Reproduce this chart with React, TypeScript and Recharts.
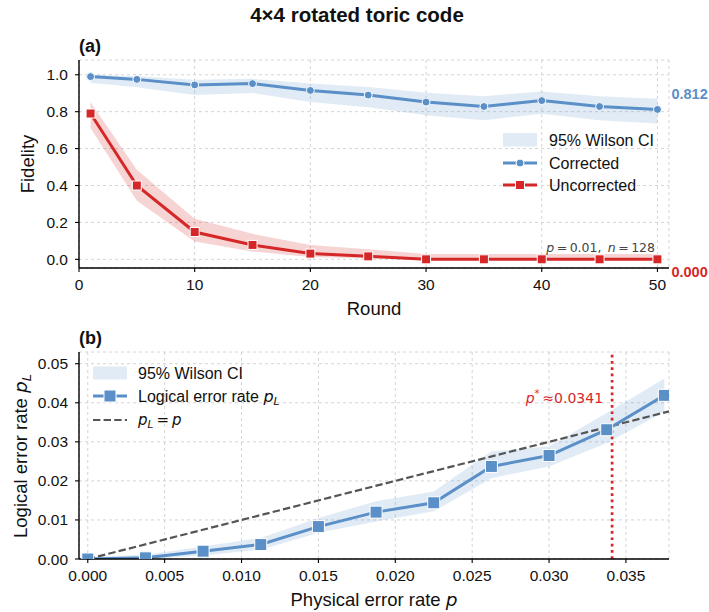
import React from 'react'
import {
  ComposedChart, Line, Area, XAxis, YAxis, CartesianGrid, ReferenceLine, ReferenceDot,
} from 'recharts'

const BLUE = '#5a8fc8'
const RED = '#d62728'
const GRAY = '#555555'
const FONT = '"Liberation Sans", Arial, sans-serif'
const MATH = '"DejaVu Sans", sans-serif'

// panel (a): fidelity vs round, n = 128 shots
const rounds = [1, 5, 10, 15, 20, 25, 30, 35, 40, 45, 50]
const corrected = [0.99, 0.975, 0.945, 0.952, 0.915, 0.89, 0.852, 0.828, 0.86, 0.828, 0.812]
const correctedLo = [0.957, 0.933, 0.891, 0.901, 0.853, 0.824, 0.78, 0.753, 0.789, 0.753, 0.736]
const correctedHi = [0.999, 0.992, 0.973, 0.978, 0.952, 0.934, 0.903, 0.884, 0.909, 0.884, 0.87]
const uncorrected = [0.79, 0.4, 0.148, 0.078, 0.031, 0.016, 0, 0, 0, 0, 0]
const uncorrectedLo = [0.711, 0.317, 0.097, 0.043, 0.012, 0.004, 0, 0, 0, 0, 0]
const uncorrectedHi = [0.851, 0.485, 0.22, 0.138, 0.078, 0.055, 0.029, 0.029, 0.029, 0.029, 0.029]
const roundTicks = [0, 10, 20, 30, 40, 50]
const fidelityTicks = [0, 0.2, 0.4, 0.6, 0.8, 1.0]

// panel (b): logical vs physical error rate
const physP = [0, 0.00375, 0.0075, 0.01125, 0.015, 0.01875, 0.0225, 0.02625, 0.03, 0.03375, 0.0375]
const logicalP = [0, 0.0003, 0.002, 0.0037, 0.0083, 0.012, 0.0144, 0.0237, 0.0265, 0.0331, 0.0419]
const logicalLo = [0, 0, 0.0009, 0.0024, 0.0067, 0.0096, 0.0122, 0.0207, 0.0237, 0.0297, 0.0377]
const logicalHi = [0.0005, 0.0011, 0.0032, 0.0054, 0.0105, 0.0148, 0.0173, 0.0276, 0.0288, 0.0374, 0.0462]
const physTicks = [0, 0.005, 0.01, 0.015, 0.02, 0.025, 0.03, 0.035]
const logicalTicks = [0, 0.01, 0.02, 0.03, 0.04, 0.05]
const threshold = 0.0341
const xMaxB = 0.0378

const dataA = rounds.map((r, i) => ({
  round: r,
  corr: corrected[i],
  corrBand: [correctedLo[i], correctedHi[i]],
  unc: uncorrected[i],
  uncBand: [uncorrectedLo[i], uncorrectedHi[i]],
}))

const dataB = physP.map((p, i) => ({
  p,
  pl: logicalP[i],
  band: [logicalLo[i], logicalHi[i]],
}))

const tickStyle = { fill: '#111', fontSize: 15.5, fontFamily: FONT }
const axisLine = { stroke: '#000', strokeWidth: 1.4 }
const tickLine = { stroke: '#000', strokeWidth: 1.1 }

const squareDot = (size: number, color: string) => (props: any) => {
  const { cx, cy, index } = props
  if (cx == null || cy == null) return <g key={`e-${index}`} />
  return (
    <rect key={`sq-${index}`} x={cx - size / 2} y={cy - size / 2} width={size} height={size}
      fill={color} stroke="#fff" strokeWidth={1} />
  )
}

const vb = (props: any) => props.viewBox || props

export default function App() {
  return (
    <div style={{ position: 'absolute', left: 0, top: 0, width: 709, height: 612, background: '#fff' }}>
      <div style={{ position: 'absolute', left: 0, top: 0 }}>
        <ComposedChart width={709} height={320} data={dataA}
          margin={{ top: 60, right: 40, bottom: 0, left: 0 }}>
          <CartesianGrid stroke="#d4d4d4" strokeDasharray="3 3" />
          <XAxis type="number" dataKey="round" domain={[0, 51]} ticks={roundTicks} height={52}
            allowDataOverflow tick={tickStyle} axisLine={axisLine} tickLine={tickLine}
            tickSize={4} tickMargin={7} />
          <YAxis type="number" domain={[-0.047, 1.08]} ticks={fidelityTicks} width={79}
            allowDataOverflow tick={tickStyle} axisLine={axisLine} tickLine={tickLine}
            tickSize={4} tickMargin={7} tickFormatter={(v: number) => v.toFixed(1)} />
          <Area type="linear" dataKey="corrBand" stroke="none" fill={BLUE} fillOpacity={0.18}
            isAnimationActive={false} activeDot={false} />
          <Area type="linear" dataKey="uncBand" stroke="none" fill={RED} fillOpacity={0.2}
            isAnimationActive={false} activeDot={false} />
          <Line type="linear" dataKey="corr" stroke={BLUE} strokeWidth={3}
            dot={{ r: 4, fill: BLUE, stroke: '#fff', strokeWidth: 1 }} activeDot={false}
            isAnimationActive={false} />
          <Line type="linear" dataKey="unc" stroke={RED} strokeWidth={3}
            dot={squareDot(9, RED)} activeDot={false} isAnimationActive={false} />
          <ReferenceDot x={rounds[rounds.length - 1]} y={corrected[corrected.length - 1]} r={0}
            stroke="none" fill="none"
            label={(props: any) => {
              const v = vb(props)
              return (
                <text x={v.x + 14} y={v.y - 10} fill={BLUE} fontFamily={FONT} fontWeight="bold"
                  fontSize={14.5}>{corrected[corrected.length - 1].toFixed(3)}</text>
              )
            }} />
          <ReferenceDot x={rounds[rounds.length - 1]} y={uncorrected[uncorrected.length - 1]} r={0}
            stroke="none" fill="none"
            label={(props: any) => {
              const v = vb(props)
              return (
                <text x={v.x + 14} y={v.y + 18} fill={RED} fontFamily={FONT} fontWeight="bold"
                  fontSize={14.5}>{uncorrected[uncorrected.length - 1].toFixed(3)}</text>
              )
            }} />
        </ComposedChart>
      </div>

      <div style={{ position: 'absolute', left: 0, top: 320 }}>
        <ComposedChart width={709} height={292} data={dataB}
          margin={{ top: 32, right: 40, bottom: 0, left: 0 }}>
          <CartesianGrid stroke="#d4d4d4" strokeDasharray="3 3" />
          <XAxis type="number" dataKey="p" domain={[-0.00057, xMaxB]} ticks={physTicks} height={53}
            allowDataOverflow tick={tickStyle} axisLine={axisLine} tickLine={tickLine}
            tickSize={4} tickMargin={7} tickFormatter={(v: number) => v.toFixed(3)} />
          <YAxis type="number" domain={[0, 0.053]} ticks={logicalTicks} width={79}
            allowDataOverflow tick={tickStyle} axisLine={axisLine} tickLine={tickLine}
            tickSize={4} tickMargin={7} tickFormatter={(v: number) => v.toFixed(2)} />
          <Area type="linear" dataKey="band" stroke="none" fill={BLUE} fillOpacity={0.18}
            isAnimationActive={false} activeDot={false} />
          <ReferenceLine segment={[{ x: 0, y: 0 }, { x: xMaxB, y: xMaxB }]} stroke={GRAY}
            strokeWidth={2.2} strokeDasharray="7.4 3.2" />
          <Line type="linear" dataKey="pl" stroke={BLUE} strokeWidth={3}
            dot={squareDot(12, BLUE)} activeDot={false} isAnimationActive={false} />
          <ReferenceLine x={threshold} stroke={RED} strokeWidth={2.7} strokeDasharray="2.7 3.6"
            label={(props: any) => {
              const v = vb(props)
              return (
                <text x={v.x - 9} y={v.y + 51} fill={RED} fontFamily={MATH} fontSize={14}
                  textAnchor="end">
                  <tspan fontStyle="italic">p</tspan>
                  <tspan fontSize={10} dy={-6}>*</tspan>
                  <tspan dy={6}>{'\u2009\u2248'}{threshold.toFixed(4)}</tspan>
                </text>
              )
            }} />
        </ComposedChart>
      </div>

      <svg width={709} height={612} style={{ position: 'absolute', left: 0, top: 0, pointerEvents: 'none' }}>
        <text x={357} y={21.5} textAnchor="middle" fontFamily={FONT} fontWeight="bold" fontSize={20.5}
          fill="#111">4×4 rotated toric code</text>

        {/* panel (a) texts */}
        <text x={79} y={52} fontFamily={FONT} fontWeight="bold" fontSize={18} fill="#111">(a)</text>
        <text transform="translate(34,164) rotate(-90)" textAnchor="middle" fontFamily={FONT}
          fontSize={18.5} fill="#111">Fidelity</text>
        <text x={374} y={315} textAnchor="middle" fontFamily={FONT} fontSize={18.5} fill="#111">Round</text>
        <text x={655} y={252} textAnchor="end" fontFamily={MATH} fontSize={12.5} fill="#444">
          <tspan fontStyle="italic">p</tspan>{'\u2009=\u20090.01,\u2002'}
          <tspan fontStyle="italic">n</tspan>{'\u2009=\u2009128'}
        </text>

        {/* legend (a) */}
        <rect x={503} y={133} width={34} height={13.5} fill={BLUE} fillOpacity={0.18} />
        <text x={549} y={145.5} fontFamily={FONT} fontSize={16} fill="#111">95% Wilson CI</text>
        <line x1={503} x2={537} y1={163} y2={163} stroke={BLUE} strokeWidth={3} />
        <circle cx={520} cy={163} r={4} fill={BLUE} stroke="#fff" strokeWidth={1} />
        <text x={549} y={169} fontFamily={FONT} fontSize={16} fill="#111">Corrected</text>
        <line x1={503} x2={537} y1={185} y2={185} stroke={RED} strokeWidth={3} />
        <rect x={515.5} y={180.5} width={9} height={9} fill={RED} stroke="#fff" strokeWidth={1} />
        <text x={549} y={191} fontFamily={FONT} fontSize={16} fill="#111">Uncorrected</text>

        {/* panel (b) texts */}
        <text x={79} y={344} fontFamily={FONT} fontWeight="bold" fontSize={18} fill="#111">(b)</text>
        <text transform="translate(27,456) rotate(-90)" textAnchor="middle" fontFamily={FONT}
          fontSize={18.5} fill="#111">
          Logical error rate{' '}
          <tspan fontFamily={MATH} fontStyle="italic">p</tspan>
          <tspan fontFamily={MATH} fontStyle="italic" fontSize={13} dy={4}>L</tspan>
        </text>
        <text x={374} y={606} textAnchor="middle" fontFamily={FONT} fontSize={18.5} fill="#111">
          Physical error rate{' '}
          <tspan fontFamily={MATH} fontStyle="italic">p</tspan>
        </text>

        {/* legend (b) */}
        <rect x={93} y={366.5} width={34} height={13} fill={BLUE} fillOpacity={0.18} />
        <text x={138} y={379} fontFamily={FONT} fontSize={16} fill="#111">95% Wilson CI</text>
        <line x1={93} x2={127} y1={396} y2={396} stroke={BLUE} strokeWidth={3} />
        <rect x={104} y={390} width={12} height={12} fill={BLUE} stroke="#fff" strokeWidth={1} />
        <text x={138} y={401.5} fontFamily={FONT} fontSize={16} fill="#111">
          Logical error rate{' '}
          <tspan fontFamily={MATH} fontStyle="italic">p</tspan>
          <tspan fontFamily={MATH} fontStyle="italic" fontSize={11} dy={3}>L</tspan>
        </text>
        <line x1={93} x2={127} y1={420} y2={420} stroke={GRAY} strokeWidth={2.2} strokeDasharray="7.4 3.2" />
        <text x={138} y={425} fontFamily={MATH} fontSize={15} fill="#111">
          <tspan fontStyle="italic">p</tspan>
          <tspan fontStyle="italic" fontSize={10.5} dy={3}>L</tspan>
          <tspan dy={-3}>{'\u2009=\u2009'}</tspan>
          <tspan fontStyle="italic">p</tspan>
        </text>
      </svg>
    </div>
  )
}
